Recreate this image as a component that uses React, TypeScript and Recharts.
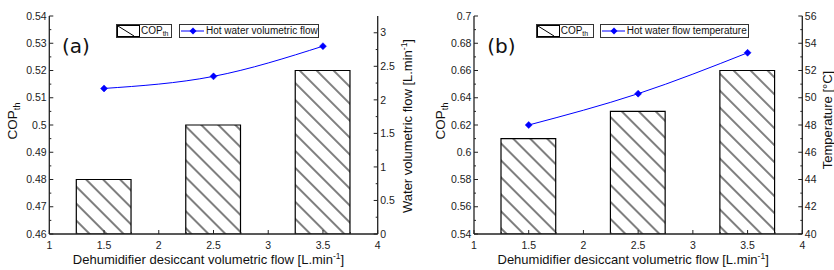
import React from 'react';
import { ComposedChart, Bar, Line, XAxis, YAxis, Legend } from 'recharts';

// ---------- data ----------
const desiccantFlow = [1.5, 2.5, 3.5];
const copThA = [0.48, 0.5, 0.52];
const hotWaterFlow = [2.17, 2.35, 2.8];
const copThB = [0.61, 0.63, 0.66];
const hotWaterTemp = [48.0, 50.3, 53.3];

// ---------- tick labels ----------
const xMajorTicks = [1, 1.5, 2, 2.5, 3, 3.5, 4];
const copAMajorTicks = [0.46, 0.47, 0.48, 0.49, 0.5, 0.51, 0.52, 0.53, 0.54];
const flowMajorTicks = [0, 0.5, 1, 1.5, 2, 2.5, 3];
const copBMajorTicks = [0.54, 0.56, 0.58, 0.6, 0.62, 0.64, 0.66, 0.68, 0.7];
const tempMajorTicks = [40, 42, 44, 46, 48, 50, 52, 54, 56];

const xTitle = 'Dehumidifier desiccant volumetric flow [L.min';
const copTitle = 'COP';
const copSub = 'th';
const flowTitle = 'Water volumetric flow [L.min';
const tempTitle = 'Temperature [°C]';
const flowLegend = 'Hot water volumetric flow';
const tempLegend = 'Hot water flow temperature';

const FONT = '"Liberation Sans", Arial, sans-serif';
const AXIS = '#222';
const BLUE = '#0000ff';

const r6 = (v: number) => Math.round(v * 1e6) / 1e6;
const withMinors = (majors: number[]) => {
  const out: number[] = [];
  majors.forEach((m, i) => {
    out.push(m);
    if (i < majors.length - 1) out.push(r6((m + majors[i + 1]) / 2));
  });
  return out;
};
const fmt = (v: number) => String(Math.round(v * 10000) / 10000);

function makeTick(side: 'left' | 'right' | 'bottom' | 'top', majors: number[], margin: number) {
  return (props: any) => {
    const { x, y, payload, index } = props;
    const v = payload.value;
    const major = majors.some((m) => Math.abs(m - v) < 1e-9);
    const len = major ? 4 : 2;
    let line: any = null;
    let label: any = null;
    if (side === 'left') {
      const ax = x + margin;
      line = <line x1={ax} x2={ax + len} y1={y} y2={y} />;
      if (major) label = <text x={x} y={y} dy="0.35em" textAnchor="end">{fmt(v)}</text>;
    } else if (side === 'right') {
      const ax = x - margin;
      line = <line x1={ax} x2={ax - len} y1={y} y2={y} />;
      if (major) label = <text x={x} y={y} dy="0.35em" textAnchor="start">{fmt(v)}</text>;
    } else if (side === 'bottom') {
      const ay = y - margin;
      line = <line x1={x} x2={x} y1={ay} y2={ay - len} />;
      if (major) label = <text x={x} y={y} dy="0.71em" textAnchor="middle">{fmt(v)}</text>;
    } else {
      const ay = y + margin;
      line = <line x1={x} x2={x} y1={ay} y2={ay + len} />;
    }
    return (
      <g key={`t-${side}-${index}`}>
        <g stroke={AXIS} strokeWidth={1}>{line}</g>
        {label && (
          <g fill="#222" stroke="none" fontFamily={FONT} fontSize={10.5}>{label}</g>
        )}
      </g>
    );
  };
}

const Diamond = (props: any) => {
  const { cx, cy, index } = props;
  const r = 3.5;
  return (
    <path
      key={`dm-${index}`}
      d={`M${cx},${cy - r}L${cx + r},${cy}L${cx},${cy + r}L${cx - r},${cy}Z`}
      fill={BLUE}
      stroke={BLUE}
      strokeWidth={0.5}
    />
  );
};

const CopTitle = ({ x, y }: { x: number; y: number }) => (
  <text
    x={x}
    y={y}
    dy="0.35em"
    textAnchor="middle"
    transform={`rotate(-90, ${x}, ${y})`}
    fontFamily={FONT}
    fontSize={13.5}
    fill="#111"
  >
    {copTitle}
    <tspan fontSize={9} dy={3}>{copSub}</tspan>
  </text>
);

const SupTitle = ({ x, y, text, rotate }: { x: number; y: number; text: string; rotate?: boolean }) => (
  <text
    x={x}
    y={y}
    dy={rotate ? '0.35em' : 0}
    textAnchor="middle"
    transform={rotate ? `rotate(-90, ${x}, ${y})` : undefined}
    fontFamily={FONT}
    fontSize={13}
    fill="#111"
  >
    {text}
    <tspan fontSize={8.5} dy={-5}>-1</tspan>
    <tspan fontSize={13} dy={5}>]</tspan>
  </text>
);

const PlainRotTitle = ({ x, y, text }: { x: number; y: number; text: string }) => (
  <text
    x={x}
    y={y}
    dy="0.35em"
    textAnchor="middle"
    transform={`rotate(-90, ${x}, ${y})`}
    fontFamily={FONT}
    fontSize={13}
    fill="#111"
  >
    {text}
  </text>
);

type LegendCfg = { box1Left: number; box1Width: number; box2Left: number; box2Width: number; text: string };

const makeLegend = (cfg: LegendCfg) => () => (
  <div style={{ position: 'relative', width: 417, height: 50, fontFamily: FONT, fontSize: 10, color: '#111' }}>
    <div
      style={{
        position: 'absolute',
        left: cfg.box1Left,
        top: 24,
        width: cfg.box1Width,
        height: 14,
        border: '1px solid #333',
        boxSizing: 'border-box',
        background: '#fff',
      }}
    >
      <svg width={23} height={12} style={{ position: 'absolute', left: 0, top: 0 }}>
        <rect x={0.5} y={0.5} width={22} height={11} fill="#fff" stroke="#000" strokeWidth={1} />
        <line x1={1} y1={1} x2={17} y2={11} stroke="#000" strokeWidth={1} />
      </svg>
      <span style={{ position: 'absolute', left: 24, top: 0, lineHeight: '12px', whiteSpace: 'nowrap' }}>
        {copTitle}
        <span style={{ fontSize: 7, position: 'relative', top: 2 }}>{copSub}</span>
      </span>
    </div>
    <div
      style={{
        position: 'absolute',
        left: cfg.box2Left,
        top: 24,
        width: cfg.box2Width,
        height: 14,
        border: '1px solid #333',
        boxSizing: 'border-box',
        background: '#fff',
      }}
    >
      <svg width={24} height={12} style={{ position: 'absolute', left: 1, top: 0 }}>
        <line x1={0} y1={6} x2={23} y2={6} stroke={BLUE} strokeWidth={1} />
        <path d="M12,2.5L15.5,6L12,9.5L8.5,6Z" fill={BLUE} />
      </svg>
      <span style={{ position: 'absolute', left: 26, top: 0, lineHeight: '12px', whiteSpace: 'nowrap' }}>
        {cfg.text}
      </span>
    </div>
  </div>
);

type PanelProps = {
  id: string;
  cop: number[];
  series: number[];
  leftDomain: [number, number];
  leftMajors: number[];
  rightDomain: [number, number];
  rightMajors: number[];
  leftAxisWidth: number;
  rightAxisWidth: number;
  panelLabel: string;
  panelLabelX: number;
  copTitleX: number;
  rightTitleX: number;
  rightTitle: 'flow' | 'temp';
  legend: LegendCfg;
};

function Panel(p: PanelProps) {
  const data = desiccantFlow.map((x, i) => ({ x, cop: p.cop[i], s: p.series[i] }));
  const W = 417;
  const H = 270;
  const plotLeft = p.leftAxisWidth;
  const plotRight = W - p.rightAxisWidth;
  const plotCenterX = (plotLeft + plotRight) / 2;
  const barPx = ((plotRight - plotLeft) / 3) * 0.5;
  const xTicks = withMinors(xMajorTicks);
  const axisLine = { stroke: AXIS, strokeWidth: 1.3 };
  return (
    <ComposedChart width={W} height={H} data={data} margin={{ top: 16, right: 0, bottom: 0, left: 0 }}>
      <defs>
        <pattern
          id={`hatch-${p.id}`}
          patternUnits="userSpaceOnUse"
          width={12}
          height={12}
          patternTransform="rotate(-45)"
        >
          <rect width={12} height={12} fill="#fff" />
          <line x1={6} y1={0} x2={6} y2={12} stroke="#000" strokeWidth={1} />
        </pattern>
      </defs>
      <XAxis
        dataKey="x"
        type="number"
        domain={[1, 4]}
        ticks={xTicks}
        interval={0}
        height={36}
        tickSize={0}
        tickMargin={7.5}
        tickLine={false}
        axisLine={axisLine}
        tick={makeTick('bottom', xMajorTicks, 7.5)}
        label={(lp: any) => <SupTitle x={plotCenterX - 5} y={263.5} text={xTitle} />}
      />
      <XAxis
        xAxisId="top"
        orientation="top"
        type="number"
        domain={[1, 4]}
        ticks={xTicks}
        interval={0}
        height={0}
        tickSize={0}
        tickMargin={0}
        tickLine={false}
        axisLine={axisLine}
        tick={makeTick('top', xMajorTicks, 0)}
      />
      <YAxis
        yAxisId="left"
        type="number"
        domain={p.leftDomain}
        ticks={withMinors(p.leftMajors)}
        interval={0}
        width={p.leftAxisWidth}
        tickSize={0}
        tickMargin={2.6}
        tickLine={false}
        axisLine={axisLine}
        allowDataOverflow
        tick={makeTick('left', p.leftMajors, 2.6)}
        label={() => <CopTitle x={p.copTitleX} y={121} />}
      />
      <YAxis
        yAxisId="right"
        orientation="right"
        type="number"
        domain={p.rightDomain}
        ticks={withMinors(p.rightMajors)}
        interval={0}
        width={p.rightAxisWidth}
        tickSize={0}
        tickMargin={2.5}
        tickLine={false}
        axisLine={axisLine}
        allowDataOverflow
        tick={makeTick('right', p.rightMajors, 2.5)}
        label={() =>
          p.rightTitle === 'flow' ? (
            <SupTitle x={p.rightTitleX} y={126} text={flowTitle} rotate />
          ) : (
            <PlainRotTitle x={p.rightTitleX} y={120} text={tempTitle} />
          )
        }
      />
      <Bar
        yAxisId="left"
        dataKey="cop"
        barSize={barPx}
        fill={`url(#hatch-${p.id})`}
        stroke="#000"
        strokeWidth={1.2}
        isAnimationActive={false}
      />
      <Line
        yAxisId="right"
        dataKey="s"
        type="natural"
        stroke={BLUE}
        strokeWidth={1}
        dot={Diamond}
        activeDot={false}
        isAnimationActive={false}
      />
      <Legend
        layout="horizontal"
        verticalAlign="middle"
        align="center"
        content={makeLegend(p.legend)}
        wrapperStyle={{ left: 0, top: 0, width: 417, height: 50 }}
      />
      <text x={p.panelLabelX} y={52.5} fontFamily='"DejaVu Sans", sans-serif' fontSize={20} fill="#111">
        {p.panelLabel}
      </text>
    </ComposedChart>
  );
}

export default function App() {
  return (
    <div style={{ position: 'absolute', left: 0, top: 0, width: 834, height: 270, background: '#fff' }}>
      <div style={{ position: 'absolute', left: 0, top: 0 }}>
        <Panel
          id="a"
          cop={copThA}
          series={hotWaterFlow}
          leftDomain={[0.46, 0.54]}
          leftMajors={copAMajorTicks}
          rightDomain={[0, 3.25]}
          rightMajors={flowMajorTicks}
          leftAxisWidth={49.3}
          rightAxisWidth={39.3}
          panelLabel="(a)"
          panelLabelX={62}
          copTitleX={12.5}
          rightTitleX={407}
          rightTitle="flow"
          legend={{ box1Left: 116, box1Width: 56, box2Left: 179, box2Width: 140, text: flowLegend }}
        />
      </div>
      <div style={{ position: 'absolute', left: 417, top: 0 }}>
        <Panel
          id="b"
          cop={copThB}
          series={hotWaterTemp}
          leftDomain={[0.54, 0.7]}
          leftMajors={copBMajorTicks}
          rightDomain={[40, 56]}
          rightMajors={tempMajorTicks}
          leftAxisWidth={57}
          rightAxisWidth={31.7}
          panelLabel="(b)"
          panelLabelX={70.3}
          copTitleX={23}
          rightTitleX={410.5}
          rightTitle="temp"
          legend={{ box1Left: 118.7, box1Width: 58, box2Left: 182.7, box2Width: 149, text: tempLegend }}
        />
      </div>
    </div>
  );
}
